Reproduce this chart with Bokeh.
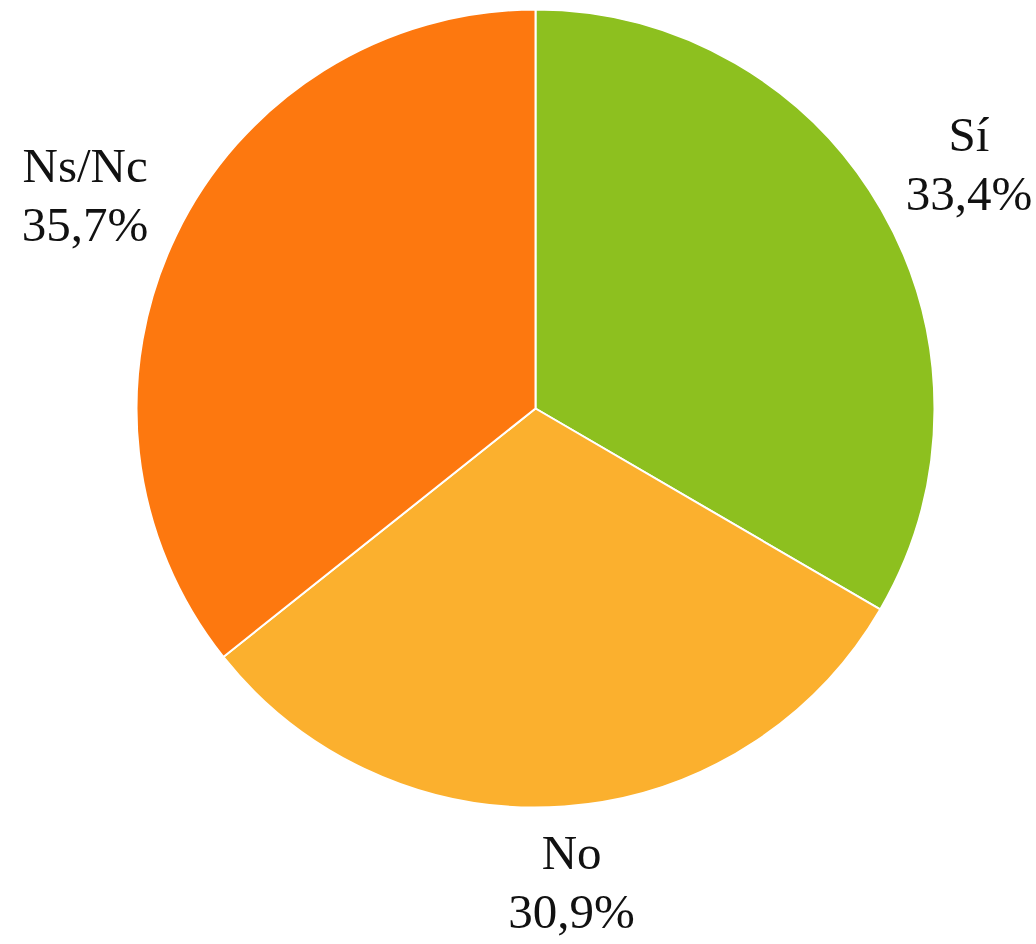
import math
from bokeh.plotting import figure
from bokeh.models import ColumnDataSource, Range1d
from bokeh.core.properties import value
from bokeh.embed import file_html
from bokeh.resources import INLINE

categories = ["Sí", "No", "Ns/Nc"]
percents = [33.4, 30.9, 35.7]
labels = ["33,4%", "30,9%", "35,7%"]
colors = ["#8DC01F", "#FBB02E", "#FD780F"]

W, H = 1036, 944
cx, cy, R = 535, H - 408, 399
label_rx, label_ry, label_dy = 500, 480, -5
line_half = 29.5

total = sum(percents)
starts, ends = [], []
x1, y1, t1, x2, y2, t2 = [], [], [], [], [], []
cum = 0.0
for cat, pct, lab in zip(categories, percents, labels):
    a0 = math.pi / 2 - 2 * math.pi * (cum + pct) / total
    a1 = math.pi / 2 - 2 * math.pi * cum / total
    starts.append(a0)
    ends.append(a1)
    mid = (a0 + a1) / 2
    ax = cx + label_rx * math.cos(mid)
    ay = cy + label_ry * math.sin(mid) - label_dy
    x1.append(ax); y1.append(ay + line_half); t1.append(cat)
    x2.append(ax); y2.append(ay - line_half); t2.append(lab)
    cum += pct

src = ColumnDataSource(dict(x=[cx] * 3, y=[cy] * 3, start=starts, end=ends, color=colors))
src1 = ColumnDataSource(dict(x=x1, y=y1, text=t1))
src2 = ColumnDataSource(dict(x=x2, y=y2, text=t2))

p = figure(width=W, height=H, output_backend="svg", toolbar_location=None,
           x_range=Range1d(0, W), y_range=Range1d(0, H), min_border=0)
p.axis.visible = False
p.grid.visible = False
p.outline_line_color = None
p.background_fill_color = "white"

p.wedge(x="x", y="y", radius=R, radius_units="data", start_angle="start", end_angle="end",
        fill_color="color", line_color="white", line_width=2, source=src)
for s in (src1, src2):
    p.text(x="x", y="y", text="text", source=s, text_align="center", text_baseline="alphabetic",
           text_font=value("Liberation Serif"), text_font_size="49px", text_color="#111111")

open("out.html", "w").write(file_html(p, INLINE))
